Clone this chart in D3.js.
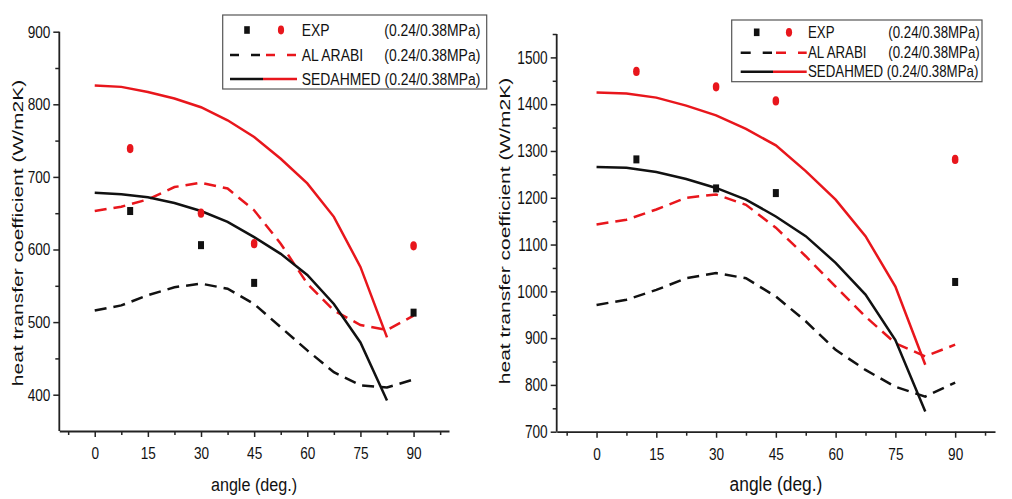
<!DOCTYPE html>
<html>
<head>
<meta charset="utf-8">
<script src="https://cdn.jsdelivr.net/npm/d3@7"></script>
<style>
  html, body { margin: 0; padding: 0; background: #fff; }
  svg { display: block; }
  text { font-family: "Liberation Sans", Arial, sans-serif; fill: #111; }
</style>
</head>
<body>
<svg id="chart" width="1012" height="499"></svg>
<script>
// ---------- data ----------
const modelAngles = [0, 7.5, 15, 22.5, 30, 37.5, 45, 52.5, 60, 67.5, 75, 82.5];
const arabiAngles = [0, 7.5, 15, 22.5, 30, 37.5, 45, 52.5, 60, 67.5, 75, 82.5, 90];
const expAngles = [10, 30, 45, 90];

const xTicks = [0, 15, 30, 45, 60, 75, 90];
const xMinorTicks = [-7.5, 7.5, 22.5, 37.5, 52.5, 67.5, 82.5, 97.5];

const leftYTicks = [400, 500, 600, 700, 800, 900];
const leftYMinor = [350, 450, 550, 650, 750, 850];
const rightYTicks = [700, 800, 900, 1000, 1100, 1200, 1300, 1400, 1500];
const rightYMinor = [750, 850, 950, 1050, 1150, 1250, 1350, 1450, 1550];

// left panel
const leftExp024 = [653, 606, 554, 513];
const leftExp038 = [739, 650, 608, 605];
const leftSed024 = [678, 676, 672, 664, 653, 638, 617, 594, 565, 525, 472, 392];
const leftSed038 = [826, 824, 817, 808, 796, 778, 755, 725, 691, 645, 576, 479];
const leftArabi024 = [516, 523, 537, 548, 553, 546, 525, 493, 461, 431, 413, 410, 421];
const leftArabi038 = [653, 659, 669, 686, 692, 684, 654, 608, 553, 516, 496, 489, 509];

// right panel
const rightExp024 = [1282, 1220, 1210, 1020];
const rightExp038 = [1470, 1437, 1407, 1282];
const rightSed024 = [1266, 1264, 1255, 1240, 1221, 1196, 1160, 1118, 1061, 993, 896, 743];
const rightSed038 = [1425, 1423, 1414, 1397, 1376, 1347, 1312, 1257, 1196, 1118, 1010, 843];
const rightArabi024 = [971, 982, 1003, 1028, 1039, 1028, 989, 936, 875, 832, 796, 775, 805];
const rightArabi038 = [1143, 1153, 1175, 1200, 1207, 1185, 1136, 1075, 1010, 946, 889, 861, 886];

const legendNames = ["EXP", "AL ARABI", "SEDAHMED"];
const legendParam = "(0.24/0.38MPa)";
const xTitle = "angle (deg.)";
const yTitle = "heat transfer coefficient (W/m2K)";

const RED = "#e8161c";
const BLACK = "#111";

const svg = d3.select("#chart");

function txt(g, x, y, s, size, sx, anchor) {
  return g.append("text")
    .attr("transform", `translate(${x},${y}) scale(${sx},1)`)
    .attr("text-anchor", anchor || "start")
    .style("font-size", size + "px")
    .text(s);
}

function panel(cfg) {
  const g = svg.append("g");
  const x = d3.scaleLinear().domain([-10, 100]).range([cfg.x0, cfg.x1]);
  const y = d3.scaleLinear().domain(cfg.yDomain).range([cfg.yBottom, cfg.yTop]);

  // minor ticks
  g.append("g").attr("transform", `translate(0,${cfg.yBottom})`)
    .call(d3.axisBottom(x).tickValues(xMinorTicks).tickSize(4).tickFormat(""))
    .call(a => a.select(".domain").remove())
    .call(a => a.selectAll("line").attr("stroke", "#222").attr("stroke-width", 1.5));
  g.append("g").attr("transform", `translate(${cfg.x0},0)`)
    .call(d3.axisLeft(y).tickValues(cfg.yMinor.filter(v => v > cfg.yDomain[0])).tickSize(4).tickFormat(""))
    .call(a => a.select(".domain").remove())
    .call(a => a.selectAll("line").attr("stroke", "#222").attr("stroke-width", 1.5));

  // major x axis
  const xa = g.append("g").attr("transform", `translate(0,${cfg.yBottom})`)
    .call(d3.axisBottom(x).tickValues(xTicks).tickSize(6).tickSizeOuter(0).tickFormat(d3.format("d")));
  xa.select(".domain").attr("stroke", "#222").attr("stroke-width", 1.8);
  xa.selectAll("line").attr("stroke", "#222").attr("stroke-width", 1.5);
  xa.selectAll("text").attr("y", 16).attr("dy", "0.71em")
    .style("font-size", cfg.tickFont + "px").style("font-family", '"Liberation Sans", Arial, sans-serif')
    .attr("fill", "#111")
    .attr("transform", `scale(${cfg.tickScale},1)`);

  // major y axis
  const ya = g.append("g").attr("transform", `translate(${cfg.x0},0)`)
    .call(d3.axisLeft(y).tickValues(cfg.yTicks).tickSize(6).tickSizeOuter(0).tickFormat(d3.format("d")));
  ya.select(".domain").attr("stroke", "#222").attr("stroke-width", 1.8)
    .attr("d", `M0,${cfg.yBottom}V${cfg.yTop}`);
  ya.selectAll("line").attr("stroke", "#222").attr("stroke-width", 1.5);
  ya.selectAll("text").attr("x", -9 / cfg.yTickScale)
    .style("font-size", cfg.yTickFont + "px").style("font-family", '"Liberation Sans", Arial, sans-serif')
    .attr("fill", "#111")
    .attr("transform", `scale(${cfg.yTickScale},1)`);

  // titles
  txt(g, cfg.xTitleX, cfg.xTitleY, xTitle, cfg.xTitleFont, cfg.xTitleScale, "middle");
  g.append("text")
    .attr("transform", `translate(${cfg.yTitleX},${cfg.yTitleY}) scale(0.7,1) rotate(-90)`)
    .attr("text-anchor", "middle")
    .attr("dominant-baseline", "central")
    .style("font-size", "21px")
    .text(yTitle);

  // lines
  const line = d3.line().x(d => x(d[0])).y(d => y(d[1]));
  const series = [
    {a: arabiAngles, v: cfg.arabi024, c: BLACK, dash: "12,7"},
    {a: arabiAngles, v: cfg.arabi038, c: RED, dash: "12,7"},
    {a: modelAngles, v: cfg.sed024, c: BLACK, dash: null},
    {a: modelAngles, v: cfg.sed038, c: RED, dash: null}
  ];
  series.forEach(s => {
    g.append("path")
      .datum(s.a.map((a, i) => [a, s.v[i]]))
      .attr("d", line)
      .attr("fill", "none")
      .attr("stroke", s.c)
      .attr("stroke-width", 2.5)
      .attr("stroke-dasharray", s.dash);
  });

  // points
  g.selectAll(".sq").data(expAngles.map((a, i) => [a, cfg.exp024[i]])).enter()
    .append("rect")
    .attr("x", d => x(d[0]) - 3).attr("y", d => y(d[1]) - 4)
    .attr("width", 6).attr("height", 8).attr("fill", BLACK);
  g.selectAll(".ci").data(expAngles.map((a, i) => [a, cfg.exp038[i]])).enter()
    .append("ellipse")
    .attr("cx", d => x(d[0])).attr("cy", d => y(d[1]))
    .attr("rx", 3.3).attr("ry", 4.6).attr("fill", RED);

  // legend
  const L = cfg.legend;
  const lg = g.append("g");
  lg.append("rect").attr("x", L.x0).attr("y", L.y0)
    .attr("width", L.x1 - L.x0).attr("height", L.y1 - L.y0)
    .attr("fill", "#fff").attr("stroke", "#555").attr("stroke-width", 1.2);
  const r = L.rows;
  lg.append("rect").attr("x", L.sq - 2.8).attr("y", r[0] - 3.8).attr("width", 5.6).attr("height", 7.6).attr("fill", BLACK);
  lg.append("ellipse").attr("cx", L.ci).attr("cy", r[0]).attr("rx", 3.1).attr("ry", 4.4).attr("fill", RED);
  lg.append("line").attr("x1", L.l0).attr("x2", L.lm - 1).attr("y1", r[1]).attr("y2", r[1])
    .attr("stroke", BLACK).attr("stroke-width", 2.5).attr("stroke-dasharray", L.ldash);
  lg.append("line").attr("x1", L.lm + 3).attr("x2", L.l1).attr("y1", r[1]).attr("y2", r[1])
    .attr("stroke", RED).attr("stroke-width", 2.5).attr("stroke-dasharray", L.ldash);
  lg.append("line").attr("x1", L.l0).attr("x2", L.lm).attr("y1", r[2]).attr("y2", r[2])
    .attr("stroke", BLACK).attr("stroke-width", 2.5);
  lg.append("line").attr("x1", L.lm).attr("x2", L.l1).attr("y1", r[2]).attr("y2", r[2])
    .attr("stroke", RED).attr("stroke-width", 2.5);
  const off = L.font * 0.36;
  txt(lg, L.tx, r[0] + off, legendNames[0], L.font, L.sc);
  txt(lg, L.px, r[0] + off, legendParam, L.font, L.sc);
  txt(lg, L.tx, r[1] + off, legendNames[1], L.font, L.sc);
  txt(lg, L.px, r[1] + off, legendParam, L.font, L.sc);
  txt(lg, L.tx, r[2] + off, legendNames[2] + " " + legendParam, L.font, L.sc);
}

panel({
  x0: 59.3, x1: 449, yTop: 31.7, yBottom: 431,
  yDomain: [350, 900], yTicks: leftYTicks, yMinor: leftYMinor,
  tickFont: 17, tickScale: 0.8, yTickFont: 17, yTickScale: 0.8,
  xTitleX: 254, xTitleY: 491, xTitleFont: 19, xTitleScale: 0.85,
  yTitleX: 18.5, yTitleY: 233,
  exp024: leftExp024, exp038: leftExp038,
  sed024: leftSed024, sed038: leftSed038,
  arabi024: leftArabi024, arabi038: leftArabi038,
  legend: {x0: 222.7, y0: 15, x1: 486.7, y1: 89, rows: [30, 55, 79],
    sq: 247, ci: 281, l0: 230, lm: 263, l1: 297, ldash: "9,12",
    tx: 301.7, px: 384.3, font: 17, sc: 0.82}
});

panel({
  x0: 556.7, x1: 995, yTop: 34, yBottom: 431.7,
  yDomain: [700, 1550], yTicks: rightYTicks, yMinor: rightYMinor,
  tickFont: 17, tickScale: 0.8, yTickFont: 18, yTickScale: 0.76,
  xTitleX: 776, xTitleY: 491, xTitleFont: 20, xTitleScale: 0.87,
  yTitleX: 505, yTitleY: 231,
  exp024: rightExp024, exp038: rightExp038,
  sed024: rightSed024, sed038: rightSed038,
  arabi024: rightArabi024, arabi038: rightArabi038,
  legend: {x0: 731.7, y0: 20, x1: 982, y1: 81.7, rows: [32.3, 52.7, 71.7],
    sq: 756.7, ci: 789, l0: 740.7, lm: 773, l1: 806.7, ldash: "10,12",
    tx: 808, px: 888.3, font: 16, sc: 0.83}
});
</script>
</body>
</html>
